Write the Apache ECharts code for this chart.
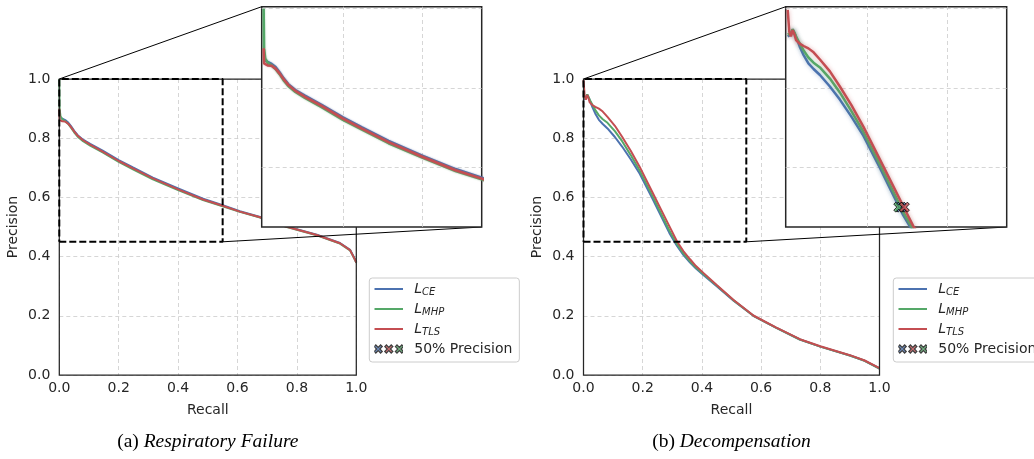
<!DOCTYPE html>
<html>
<head>
<meta charset="utf-8">
<script src="https://cdn.jsdelivr.net/npm/echarts@6/dist/echarts.min.js"></script>
<style>
  html, body { margin: 0; padding: 0; background: #fff; }
  #chart { width: 1034px; height: 459px; }
</style>
</head>
<body>
<div id="chart"></div>
<script>
// Mean precision-recall curves for three training losses on two tasks.

// (a) Respiratory Failure
const recallA = [0, 0.001, 0.004, 0.01, 0.02, 0.03, 0.04, 0.05, 0.062, 0.08, 0.104, 0.146, 0.2, 0.248, 0.315, 0.4, 0.484, 0.55, 0.608, 0.676, 0.766, 0.867, 0.945, 0.979, 0.996, 1.0];
const ceA  = [0.872, 0.871, 0.869, 0.866, 0.861, 0.853, 0.84, 0.825, 0.81, 0.795, 0.781, 0.758, 0.726, 0.701, 0.667, 0.63, 0.596, 0.574, 0.553, 0.534, 0.502, 0.474, 0.446, 0.423, 0.39, 0.381];
const mhpA = [1.0, 0.9, 0.874, 0.864, 0.857, 0.848, 0.835, 0.82, 0.805, 0.79, 0.775, 0.752, 0.72, 0.695, 0.661, 0.625, 0.591, 0.570, 0.551, 0.532, 0.500, 0.472, 0.444, 0.421, 0.388, 0.379];
const tlsA = [0.9, 0.862, 0.857, 0.857, 0.856, 0.849, 0.837, 0.823, 0.808, 0.793, 0.778, 0.755, 0.723, 0.698, 0.664, 0.627, 0.593, 0.572, 0.552, 0.533, 0.501, 0.473, 0.445, 0.422, 0.389, 0.38];

// (b) Decompensation
const recallB = [0, 0.004, 0.008, 0.0125, 0.017, 0.021, 0.03, 0.04, 0.052, 0.065, 0.081, 0.106, 0.131, 0.16, 0.19, 0.232, 0.26, 0.29, 0.316, 0.338, 0.36, 0.38, 0.405, 0.45, 0.506, 0.574, 0.65, 0.731, 0.8, 0.9, 0.95, 1.0];
const ceB  = [0.93, 0.925, 0.935, 0.948, 0.938, 0.929, 0.905, 0.883, 0.862, 0.848, 0.833, 0.804, 0.771, 0.728, 0.68, 0.598, 0.541, 0.480, 0.436, 0.405, 0.380, 0.360, 0.338, 0.300, 0.252, 0.200, 0.160, 0.120, 0.096, 0.066, 0.048, 0.022];
const mhpB = [0.935, 0.93, 0.938, 0.948, 0.94, 0.93, 0.913, 0.895, 0.877, 0.864, 0.852, 0.824, 0.789, 0.742, 0.69, 0.607, 0.55, 0.488, 0.442, 0.410, 0.384, 0.363, 0.341, 0.302, 0.253, 0.200, 0.160, 0.120, 0.096, 0.066, 0.048, 0.022];
const tlsB = [0.997, 0.942, 0.93, 0.946, 0.935, 0.921, 0.912, 0.906, 0.9, 0.89, 0.872, 0.842, 0.804, 0.757, 0.703, 0.619, 0.563, 0.503, 0.451, 0.418, 0.391, 0.368, 0.345, 0.304, 0.254, 0.201, 0.161, 0.121, 0.097, 0.067, 0.049, 0.023];

// Recall reached at 50% precision (CE, MHP, TLS) on Decompensation
const recallAt50B = [0.285, 0.279, 0.293];
const precision50 = 0.5;

// Axis ticks and the zoomed window
const mainTicks = [0, 0.2, 0.4, 0.6, 0.8, 1.0];
const insetTicksX = [0.2, 0.4];
const insetTicksY = [0.6, 0.8, 1.0];
const zoomX = [0, 0.55], zoomY = [0.45, 1.0];
const insetX = [-0.005, 0.55], insetY = [0.45, 1.005];

const lossNames = ['L_CE', 'L_MHP', 'L_TLS'];
const markerName = '50% Precision';
const captions = [['(a) ', 'Respiratory Failure'], ['(b) ', 'Decompensation']];

const BLUE = '#4C72B0', GREEN = '#55A868', RED = '#C44E52', INK = '#262626';
const colors = [BLUE, GREEN, RED];
const halo = ['rgba(76,114,176,0.45)', 'rgba(85,168,104,0.45)', 'rgba(196,78,82,0.45)'];

const panels = [
  { recall: recallA, curves: [ceA, mhpA, tlsA], at50: null, blur: 2 },
  { recall: recallB, curves: [ceB, mhpB, tlsB], at50: recallAt50B, blur: 4 }
];

const zip = (xs, ys) => xs.map((x, i) => [x, ys[i]]);

// filled "X" marker, 10x10 units
const X_PATH = 'M0,2 L2,0 L5,3 L8,0 L10,2 L7,5 L10,8 L8,10 L5,7 L2,10 L0,8 L3,5 Z';

const svgIcon = body => 'image://data:image/svg+xml;charset=utf-8,' + encodeURIComponent(
  '<svg xmlns="http://www.w3.org/2000/svg" width="29" height="14" viewBox="0 0 29 14">' + body + '</svg>');

function lineIcon(color) {
  return svgIcon('<line x1="0" y1="7" x2="29" y2="7" stroke="' + color + '" stroke-width="2"/>');
}

function markerIcon() {
  const cx = [3.9, 14.5, 25.1];
  const fills = [BLUE, RED, GREEN];
  let g = '';
  cx.forEach((x, i) => {
    g += '<path transform="translate(' + (x - 4) + ',3) scale(0.8)" d="' + X_PATH +
         '" fill="' + fills[i] + '" stroke="#111" stroke-width="1.6"/>';
  });
  return svgIcon(g);
}

const grids = [
  { left: 59.3, top: 79, width: 297, height: 296, show: false },
  { left: 261.7, top: 6.7, width: 220, height: 220.3, show: true, backgroundColor: '#fff', borderColor: INK, borderWidth: 1.5, z: 5 },
  { left: 583.5, top: 79, width: 296, height: 296, show: false },
  { left: 785.7, top: 6.7, width: 221, height: 220.3, show: true, backgroundColor: '#fff', borderColor: INK, borderWidth: 1.5, z: 5 }
];

const gridLineStyle = { color: '#cccccc', type: [4, 3], width: 0.8 };

const xAxes = [], yAxes = [], series = [];

panels.forEach((p, k) => {
  const gm = 2 * k, gi = 2 * k + 1;

  xAxes.push({
    gridIndex: gm, type: 'value', min: mainTicks[0], max: mainTicks[mainTicks.length - 1], interval: 0.2,
    axisLine: { show: false }, axisTick: { show: false },
    splitLine: { show: true, lineStyle: gridLineStyle },
    axisLabel: { color: INK, fontSize: 14, margin: 6, formatter: v => v.toFixed(1) },
    name: 'Recall', nameLocation: 'middle', nameGap: 28,
    nameTextStyle: { color: INK, fontSize: 14 }
  });
  yAxes.push({
    gridIndex: gm, type: 'value', min: mainTicks[0], max: mainTicks[mainTicks.length - 1], interval: 0.2,
    axisLine: { show: false }, axisTick: { show: false },
    splitLine: { show: true, lineStyle: gridLineStyle },
    axisLabel: { color: INK, fontSize: 14, margin: 9, formatter: v => v.toFixed(1) },
    name: 'Precision', nameLocation: 'middle', nameGap: 39,
    nameTextStyle: { color: INK, fontSize: 14 }
  });
  xAxes.push({ gridIndex: gi, type: 'value', min: insetX[0], max: insetX[1], show: false, splitLine: { show: false } });
  yAxes.push({ gridIndex: gi, type: 'value', min: insetY[0], max: insetY[1], show: false, splitLine: { show: false } });

  // main curves
  p.curves.forEach((c, j) => {
    series.push({
      type: 'line', name: lossNames[j], xAxisIndex: gm, yAxisIndex: gm,
      data: zip(p.recall, c), symbol: 'none', showSymbol: false, z: 2,
      itemStyle: { color: colors[j] },
      lineStyle: { color: colors[j], width: 2 }
    });
  });

  // dashed window marking the zoomed region
  series.push({
    type: 'line', name: 'zoom-window', xAxisIndex: gm, yAxisIndex: gm, clip: false, z: 4,
    data: [[zoomX[0], zoomY[0]], [zoomX[1], zoomY[0]], [zoomX[1], zoomY[1]], [zoomX[0], zoomY[1]], [zoomX[0], zoomY[0]]],
    symbol: 'none', silent: true,
    lineStyle: { color: '#000', width: 2, type: [7, 3] }
  });

  // inset grid lines
  series.push({
    type: 'line', name: 'inset-grid', xAxisIndex: gi, yAxisIndex: gi, data: [], silent: true, z: 6,
    markLine: {
      silent: true, symbol: ['none', 'none'], z: 6, animation: false,
      label: { show: false }, lineStyle: gridLineStyle,
      data: insetTicksX.map(v => ({ xAxis: v })).concat(insetTicksY.map(v => ({ yAxis: v })))
    }
  });

  // inset curves
  p.curves.forEach((c, j) => {
    series.push({
      type: 'line', name: lossNames[j], xAxisIndex: gi, yAxisIndex: gi,
      data: zip(p.recall, c), symbol: 'none', showSymbol: false, z: 7,
      itemStyle: { color: colors[j] },
      lineStyle: { color: colors[j], width: 2.5, shadowBlur: p.blur, shadowColor: halo[j] }
    });
  });

  // 50% precision markers
  if (p.at50) {
    series.push({
      type: 'scatter', name: markerName, xAxisIndex: gi, yAxisIndex: gi, z: 8,
      symbol: 'path://' + X_PATH, symbolSize: 10,
      data: p.at50.map((r, j) => ({ value: [r, precision50], itemStyle: { color: colors[j], borderColor: '#000', borderWidth: 1 } }))
    });
  }
});

function legendLabel(name) {
  if (name === markerName) return '{t|' + name + '}';
  return '{l|L}{s|' + name.split('_')[1] + '}';
}

function legendAt(left) {
  return {
    orient: 'vertical', left: left, top: 278,
    itemWidth: 29, itemHeight: 14, itemGap: 5,
    padding: [4, 7, 6, 5],
    borderColor: '#cccccc', borderWidth: 1, borderRadius: 3,
    backgroundColor: 'rgba(255,255,255,0.8)',
    selectedMode: false, z: 10,
    data: lossNames.map((n, j) => ({ name: n, icon: lineIcon(colors[j]) }))
      .concat([{ name: markerName, icon: markerIcon() }]),
    formatter: legendLabel,
    textStyle: {
      color: INK, fontSize: 14, padding: [0, 0, 0, 6],
      rich: {
        l: { fontStyle: 'italic', fontSize: 14, lineHeight: 16, color: INK },
        s: { fontStyle: 'italic', fontSize: 10, lineHeight: 8, verticalAlign: 'bottom', color: INK },
        t: { fontSize: 14, lineHeight: 16, color: INK }
      }
    }
  };
}

const chart = echarts.init(document.getElementById('chart'), null, { renderer: 'canvas' });
chart.setOption({
  animation: false,
  backgroundColor: '#fff',
  textStyle: { fontFamily: 'DejaVu Sans' },
  grid: grids,
  xAxis: xAxes,
  yAxis: yAxes,
  legend: [legendAt(369.3), legendAt(893.3)],
  series: series
});

// frames, connectors from the dashed window to its inset, captions
const px = (g, pt) => chart.convertToPixel({ gridIndex: g }, pt);
const gfx = [];
panels.forEach((p, k) => {
  const gm = 2 * k, gi = 2 * k + 1;
  const a = px(gm, [mainTicks[0], mainTicks[mainTicks.length - 1]]);
  const b = px(gm, [mainTicks[mainTicks.length - 1], mainTicks[0]]);
  gfx.push({
    type: 'rect', silent: true, z: 3,
    shape: { x: a[0], y: a[1], width: b[0] - a[0], height: b[1] - a[1] },
    style: { fill: 'none', stroke: INK, lineWidth: 1.25 }
  });
  const w0 = px(gm, [zoomX[0], zoomY[1]]), i0 = px(gi, [insetX[0], insetY[1]]);
  const w1 = px(gm, [zoomX[1], zoomY[0]]), i1 = px(gi, [insetX[1], insetY[0]]);
  [[w0, i0], [w1, i1]].forEach(([s, e]) => {
    gfx.push({
      type: 'line', silent: true, z: 4,
      shape: { x1: s[0], y1: s[1], x2: e[0], y2: e[1] },
      style: { stroke: '#000', lineWidth: 1 }
    });
  });
  gfx.push({
    type: 'text', silent: true, z: 10,
    x: (a[0] + b[0]) / 2, y: 442,
    style: {
      text: '{n|' + captions[k][0] + '}{i|' + captions[k][1] + '}',
      align: 'center', verticalAlign: 'middle',
      rich: {
        n: { fontFamily: 'Liberation Serif', fontSize: 19.5, fill: '#000' },
        i: { fontFamily: 'Liberation Serif', fontSize: 19.5, fontStyle: 'italic', fill: '#000' }
      }
    }
  });
});
chart.setOption({ graphic: gfx });
</script>
</body>
</html>
